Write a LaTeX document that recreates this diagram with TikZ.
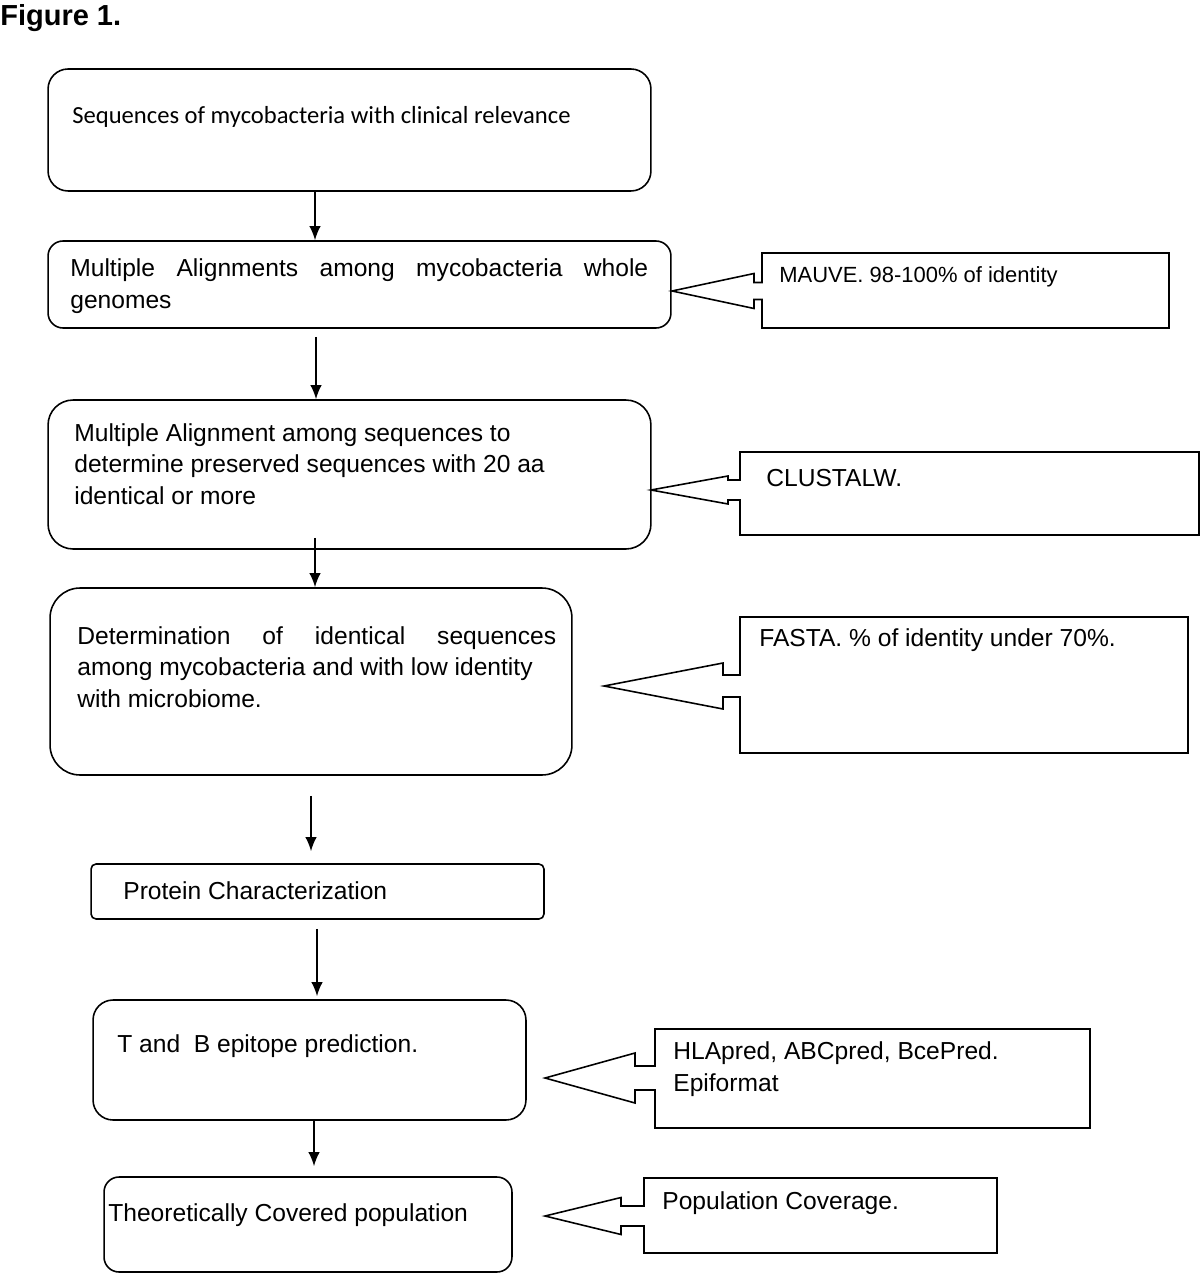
\documentclass[tikz,border=0pt]{standalone}
\usepackage{fontspec}
\usetikzlibrary{arrows.meta}
\setmainfont{Liberation Sans}
\newfontfamily\calib{Carlito}
\begin{document}
\begin{tikzpicture}[
		x={(0.02cm,0cm)},
		y={(0cm,-0.02cm)},
		stepbox/.style={draw=black, line width=0.9pt, rounded corners=#1, inner sep=0pt},
		stepbox/.default=0.3cm,
		txt/.style={anchor=west, inner sep=0pt, align=left, font=\fontsize{14}{18}\selectfont},
		flow/.style={-{Latex[length=8pt,width=6.5pt]}, line width=0.9pt},
		callout/.style={draw=black, line width=0.9pt},
	]
		\useasboundingbox (0,0) rectangle (1200,1273);
		\node[anchor=north west, inner sep=0pt, font=\fontsize{16.5}{20}\selectfont\bfseries] (fig) at (0,4) {Figure 1.};
		
		% steps of the flow
		\node[stepbox=0.4cm, minimum width=12.06cm, minimum height=2.44cm] (seq) at (349.5,130) {};
		\node[stepbox=0.3cm, minimum width=12.46cm, minimum height=1.74cm] (align) at (359.5,284.5) {};
		\node[stepbox=0.5cm, minimum width=12.06cm, minimum height=2.98cm] (pres) at (349.5,474.5) {};
		\node[stepbox=0.6cm, minimum width=10.44cm, minimum height=3.74cm] (ident) at (311,681.5) {};
		\node[stepbox=0.1cm, minimum width=9.06cm, minimum height=1.1cm] (prot) at (317.5,891.5) {};
		\node[stepbox=0.4cm, minimum width=8.66cm, minimum height=2.4cm] (epi) at (309.5,1060) {};
		\node[stepbox=0.3cm, minimum width=8.16cm, minimum height=1.9cm] (cov) at (308,1224.5) {};
		
		\node[txt, font=\calib\fontsize{14}{18}\selectfont] (seqt) at (72,117) {Sequences of mycobacteria with clinical relevance};
		\node[txt] (alignt) at (70,286) {\makebox[11.56cm][s]{Multiple Alignments among mycobacteria whole}\\genomes};
		\node[txt] (prest) at (74,464) {Multiple Alignment among sequences to\\determine preserved sequences with 20 aa\\identical or more};
		\node[txt] (identt) at (77,667) {\makebox[9.58cm][s]{Determination of identical sequences}\\among mycobacteria and with low identity\\with microbiome.};
		\node[txt] (prott) at (123,891) {Protein Characterization};
		\node[txt] (epit) at (117,1046) {T and\ \ B epitope prediction.};
		\node[txt] (covt) at (108,1215) {Theoretically Covered population};
		
		\draw[flow] (seq.south -| 315,0) -- (align.north -| 315,0);
		\draw[flow, shorten <=0.16cm] (align.south -| 316,0) -- (pres.north -| 316,0);
		\draw[flow, shorten <=-0.24cm] (pres.south -| 315,0) -- (ident.north -| 315,0);
		\draw[flow, shorten <=0.4cm, shorten >=0.24cm] (ident.south) -- (prot.north -| ident.south);
		\draw[flow, shorten <=0.18cm, shorten >=0.06cm] (prot.south -| 317,0) -- (epi.north -| 317,0);
		\draw[flow, shorten >=0.2cm] (epi.south -| 314,0) -- (cov.north -| 314,0);
		
		% tool callouts
		\foreach \l/\t/\r/\b/\tx/\ty/\bx/\h/\s in {762/253/1169/328/672/291/754/17.5/8.5, 740/452/1199/535/651/490/728/14/10, 740/617/1188/753/604/686/723/23/11, 655/1029/1090/1128/545/1078/635/25/12, 644/1178/997/1253/545/1216/621/18.5/10}{
			\draw[callout] (\l,\t) -- (\r,\t) -- (\r,\b) -- (\l,\b) -- (\l,{\ty+\s}) -- (\bx,{\ty+\s}) -- (\bx,{\ty+\h}) -- (\tx,\ty) -- (\bx,{\ty-\h}) -- (\bx,{\ty-\s}) -- (\l,{\ty-\s}) -- cycle;
		}
		\node[txt, font=\fontsize{12.5}{18}\selectfont] (mauve) at (779,277) {MAUVE. 98-100\% of identity};
		\node[txt] (clustal) at (766,478) {CLUSTALW.};
		\node[txt] (fasta) at (759,640) {FASTA. \% of identity under 70\%.};
		\node[txt] (hlapred) at (673,1069) {HLApred, ABCpred, BcePred.\\Epiformat};
		\node[txt] (popcov) at (662,1203) {Population Coverage.};
	\end{tikzpicture}
\end{document}
